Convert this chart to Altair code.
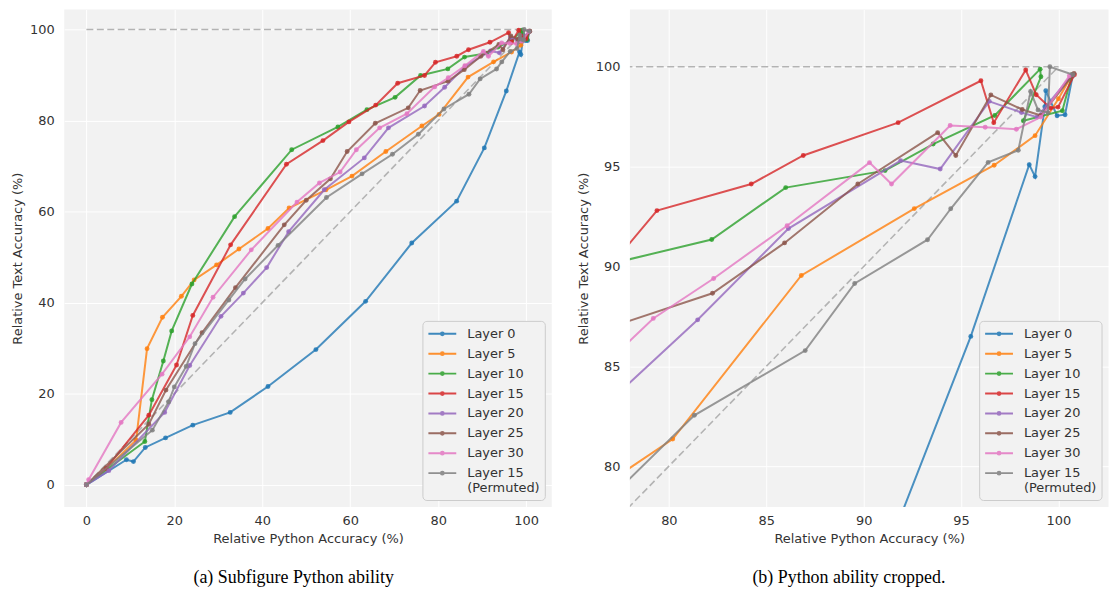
import altair as alt
import pandas as pd

series_names = ["Layer 0", "Layer 5", "Layer 10", "Layer 15", "Layer 20",
                "Layer 25", "Layer 30", "Layer 15 (Permuted)"]
colors = ["#1f77b4", "#ff7f0e", "#2ca02c", "#d62728", "#9467bd",
          "#8c564b", "#e377c2", "#7f7f7f"]

layer0_x = [0, 9.1, 10.7, 13.4, 18.0, 24.2, 32.7, 41.3, 52.2, 63.5, 74.0, 84.2, 90.5, 95.5,
            98.5, 98.8, 99.3, 99.35, 99.93, 100.34, 100.73]
layer0_y = [0, 5.5, 5.1, 8.2, 10.3, 13.1, 15.9, 21.6, 29.7, 40.3, 53.1, 62.3, 74.0, 86.5,
            95.1, 94.5, 98.0, 98.8, 97.55, 97.6, 99.55]

layer5_x = [0, 4.5, 11.3, 13.8, 17.3, 21.6, 24.5, 29.6, 34.7, 41.3, 46.1, 54.5, 60.4, 68.1,
            76.3, 80.2, 86.8, 92.6, 96.7, 98.8, 100.0, 100.7]
layer5_y = [0, 3.5, 9.8, 29.9, 36.8, 41.4, 45.0, 48.3, 51.8, 56.3, 60.8, 64.8, 67.8, 73.2,
            78.8, 81.36, 89.55, 92.9, 95.07, 96.55, 98.4, 99.6]

layer10_x = [0, 13.3, 14.9, 17.5, 19.4, 24.0, 33.7, 46.7, 57.2, 63.8, 70.2, 76.0, 82.2, 86.0,
             91.1, 93.57, 96.73, 99.06, 99.1, 98.2, 100.2, 100.7]
layer10_y = [0, 9.5, 18.7, 27.2, 33.8, 44.1, 58.9, 73.6, 78.6, 82.4, 85.1, 89.9, 91.35, 93.95,
             94.8, 96.13, 97.56, 99.88, 99.5, 97.3, 97.8, 99.6]

layer15_x = [0, 4.5, 14.2, 20.5, 24.2, 32.8, 45.5, 53.8, 59.7, 65.8, 70.8, 76.9, 79.39, 84.23,
             86.9, 91.77, 96.02, 96.68, 98.32, 98.86, 99.6, 99.98, 100.82]
layer15_y = [0, 3.6, 15.3, 26.3, 37.2, 52.7, 70.4, 75.6, 79.7, 83.4, 88.2, 89.9, 92.8, 94.13,
             95.56, 97.2, 99.3, 97.2, 99.84, 98.6, 97.93, 97.98, 99.6]

layer20_x = [0, 5.1, 17.8, 23.5, 30.6, 35.7, 41.0, 46.0, 54.1, 63.2, 68.7, 76.9, 81.48, 86.14,
             91.9, 93.93, 96.45, 98.1, 98.9, 100.7]
layer20_y = [0, 3.1, 15.9, 26.2, 37.0, 42.1, 47.7, 55.6, 64.8, 71.8, 78.4, 83.2, 87.33, 91.9,
             95.3, 94.88, 98.27, 97.71, 97.48, 99.6]

layer25_x = [0, 14.2, 18.1, 26.3, 33.9, 45.0, 50.0, 55.5, 59.3, 65.7, 73.2, 75.9, 82.24, 85.94,
             89.7, 93.8, 94.73, 96.53, 98.14, 99.1, 100.8]
layer25_y = [0, 13.3, 20.8, 33.4, 43.3, 57.1, 62.5, 67.2, 73.2, 79.4, 82.8, 86.6, 88.66, 91.18,
             94.13, 96.7, 95.56, 98.59, 97.86, 97.56, 99.67]

layer30_x = [0, 0.5, 7.9, 17.2, 23.5, 28.8, 37.5, 47.9, 53.0, 57.7, 61.4, 66.7, 72.9, 79.2,
             82.3, 86.07, 90.3, 91.43, 94.44, 96.24, 97.84, 99.1, 100.56]
layer30_y = [0, 1.1, 13.7, 24.3, 32.5, 41.2, 51.6, 62.1, 66.3, 68.7, 73.6, 78.4, 81.5, 87.4,
             89.4, 92.04, 95.2, 94.13, 97.06, 96.97, 96.87, 97.48, 99.55]

perm_x = [0, 15.0, 18.7, 20.0, 22.7, 24.7, 32.4, 36.1, 43.6, 54.6, 62.7, 69.6, 75.5, 81.31,
          87.0, 89.54, 93.28, 94.47, 96.39, 97.94, 98.57, 98.95, 99.46, 99.56, 100.75]
perm_y = [0, 12.0, 18.2, 21.5, 26.0, 31.0, 40.6, 45.2, 52.6, 63.1, 68.3, 72.6, 77.0, 82.55,
          85.79, 89.15, 91.34, 92.89, 95.21, 95.82, 98.76, 97.84, 97.7, 100.0, 99.6]

# reference lines: y = 100 and y = x
ref_group = ["top", "top", "diag", "diag"]
ref_x = [0, 100, 0, 100]
ref_y = [100, 100, 0, 100]

all_x = [layer0_x, layer5_x, layer10_x, layer15_x, layer20_x, layer25_x, layer30_x, perm_x]
all_y = [layer0_y, layer5_y, layer10_y, layer15_y, layer20_y, layer25_y, layer30_y, perm_y]

rows = []
for name, xs, ys in zip(series_names, all_x, all_y):
    for i, (xv, yv) in enumerate(zip(xs, ys)):
        rows.append({"series": name, "idx": i, "x": xv, "y": yv})
df = pd.DataFrame(rows)
ref_df = pd.DataFrame({"grp": ref_group, "x": ref_x, "y": ref_y})

LEGEND_SYMBOL = "M-1,0L1,0M-0.1,0a0.1,0.1 0 1,0 0.2,0a0.1,0.1 0 1,0 -0.2,0"


def panel(xdom, ydom, xticks, yticks, width, caption, cap_dx):
    xs = alt.Scale(domain=xdom, nice=False, zero=False)
    ys = alt.Scale(domain=ydom, nice=False, zero=False)
    xaxis = alt.Axis(values=xticks, title="Relative Python Accuracy (%)")
    yaxis = alt.Axis(values=yticks, title="Relative Text Accuracy (%)")
    legend = alt.Legend(
        title=None, orient="bottom-right", offset=7,
        symbolType=LEGEND_SYMBOL, symbolSize=784, symbolStrokeWidth=2,
        symbolOpacity=0.85, clipHeight=16, rowPadding=4,
        labelFontSize=13, labelFont="DejaVu Sans", labelColor="#333333",
        labelOffset=10, padding=5, fillColor="#f2f2f2", strokeColor="#cccccc",
        cornerRadius=4,
        labelExpr="datum.label == 'Layer 15 (Permuted)' ? ['Layer 15', '(Permuted)'] : datum.label",
    )
    color = alt.Color("series:N", scale=alt.Scale(domain=series_names, range=colors),
                      legend=legend)
    layers = [
        alt.Chart(ref_df).mark_line(color="#b3b3b3", strokeDash=[7, 3.5], strokeWidth=1.6,
                                    clip=True).encode(
            x=alt.X("x:Q", scale=xs, axis=xaxis),
            y=alt.Y("y:Q", scale=ys, axis=yaxis),
            detail="grp:N",
        )
    ]
    for name in series_names:
        base = alt.Chart(df).transform_filter(alt.datum.series == name)
        layers.append(base.mark_line(strokeWidth=2, opacity=0.8, clip=True).encode(
            x=alt.X("x:Q", scale=xs, axis=xaxis),
            y=alt.Y("y:Q", scale=ys, axis=yaxis),
            order="idx:Q",
            color=color,
        ))
        layers.append(base.mark_circle(size=24, opacity=0.85, clip=True).encode(
            x=alt.X("x:Q", scale=xs, axis=xaxis),
            y=alt.Y("y:Q", scale=ys, axis=yaxis),
            color=color,
        ))
    return alt.layer(*layers).properties(
        width=width, height=500,
        title=alt.TitleParams(caption, orient="bottom", font="Liberation Serif", fontSize=18,
                              fontWeight="normal", color="black", offset=23, anchor="middle",
                              frame="bounds", dx=cap_dx),
    )


left = panel([-5.04, 105.84], [-4.87, 104.41], [0, 20, 40, 60, 80, 100],
             [0, 20, 40, 60, 80, 100], 490, "(a) Subfigure Python ability", 12)
right = panel([78.0, 102.57], [77.96, 102.87], [80, 85, 90, 95, 100],
              [80, 85, 90, 95, 100], 481, "(b) Python ability cropped.", 6)

chart = alt.hconcat(left, right, spacing=25.5).resolve_scale(
    color="independent").resolve_legend(color="independent").properties(
    padding={"left": 3.5, "top": 0, "right": 0, "bottom": 0}
).configure_view(fill="#f2f2f2", stroke=None).configure_axis(
    gridColor="white", gridWidth=1, domain=False, ticks=False,
    labelColor="#333333", titleColor="#333333", labelFont="DejaVu Sans",
    titleFont="DejaVu Sans", labelFontSize=13, titleFontSize=13,
    titleFontWeight="normal", labelPadding=10, titlePadding=5,
).configure_axisX(labelPadding=8, titlePadding=5)

chart.save("out.html", embed_options={"renderer": "svg", "actions": False})
